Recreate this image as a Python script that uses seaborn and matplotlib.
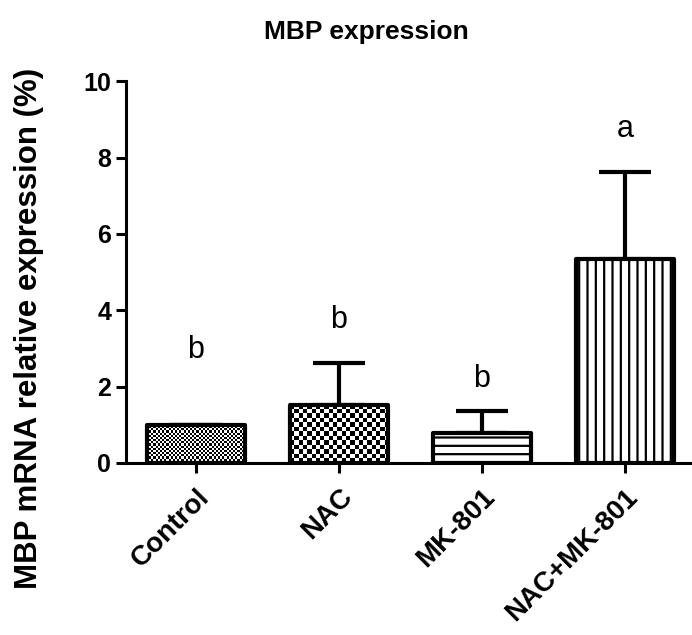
import numpy as np
import pandas as pd
import matplotlib
matplotlib.use("Agg")
import matplotlib.pyplot as plt
import seaborn as sns

# Data
groups = ['Control', 'NAC', 'MK-801', 'NAC+MK-801']
means = [1.0, 1.52, 0.79, 5.34]
sds = [0.0, 1.10, 0.57, 2.27]
letters = ['b', 'b', 'b', 'a']
letter_y = [2.96, 3.74, 2.2, 8.75]

sns.set_style("ticks")
plt.rcParams['font.family'] = ['Liberation Sans', 'DejaVu Sans']
plt.rcParams['hatch.linewidth'] = 1.6
plt.rcParams['text.color'] = 'black'
plt.rcParams['axes.labelcolor'] = 'black'
plt.rcParams['xtick.color'] = 'black'
plt.rcParams['ytick.color'] = 'black'

df = pd.DataFrame({'group': groups, 'mean': means})

fig = plt.figure(figsize=(6.92, 6.35), dpi=100)
ax = fig.add_axes([0.182, 0.271, 0.815, 0.601])

sns.barplot(data=df, x='group', y='mean', color='white', edgecolor='black',
            linewidth=3, width=0.69, errorbar=None, ax=ax)

ax.errorbar(range(len(groups)), means, yerr=[np.zeros(len(sds)), sds],
            fmt='none', ecolor='black', elinewidth=3, capsize=19, capthick=3, zorder=1)

for p in ax.patches:
    p.set_joinstyle('round')
    p.set_zorder(2)

ax.set_xlim(-0.49, 3.455)
ax.set_ylim(0, 10)
ax.set_yticks([0, 2, 4, 6, 8, 10])

# fill patterns
fig.canvas.draw()
patterns = ['check_fine', 'check_coarse', '--', '||']
for p, pat in zip(ax.patches, patterns):
    if pat.startswith('check'):
        cell = 2.15 if pat == 'check_fine' else 4.35
        bb = p.get_window_extent()
        nx = max(1, int(round(bb.width / cell)))
        ny = max(1, int(round(bb.height / cell)))
        board = (np.add.outer(np.arange(ny), np.arange(nx)) % 2).astype(float)
        x0, y0 = p.get_x(), p.get_y()
        w, h = p.get_width(), p.get_height()
        p.set_facecolor('none')
        im = ax.imshow(board, cmap='gray', vmin=0, vmax=1, interpolation='nearest',
                       extent=[x0, x0 + w, y0, y0 + h], aspect='auto', zorder=1.5)
        im.set_clip_path(p)
    else:
        p.set_hatch(pat)

ax.set_xlim(-0.49, 3.455)
ax.set_ylim(0, 10)

for i, (t, y) in enumerate(zip(letters, letter_y)):
    ax.text(i, y, t, ha='center', va='center', fontsize=22, color='black')

fig.text(366 / 692, 1 - 32 / 635, 'MBP expression', ha='center', va='center',
         fontsize=19, fontweight='bold', color='black')
ax.set_ylabel('MBP mRNA relative expression (%)', fontsize=22.5, fontweight='bold')
ax.yaxis.set_label_coords(-0.145, 0.353)
ax.set_xlabel('')

ax.set_xticks(range(len(groups)))
ax.set_xticklabels(groups, rotation=45, ha='right', rotation_mode='anchor',
                   fontsize=20, fontweight='bold')
for lab in ax.get_yticklabels():
    lab.set_fontweight('bold')
    lab.set_fontsize(18)

ax.tick_params(axis='both', width=2.2, length=7, colors='black')
ax.tick_params(axis='x', pad=8)
for s in ['left', 'bottom']:
    ax.spines[s].set_linewidth(2.2)
    ax.spines[s].set_color('black')
sns.despine(ax=ax)

fig.savefig('out.png', dpi=100)
